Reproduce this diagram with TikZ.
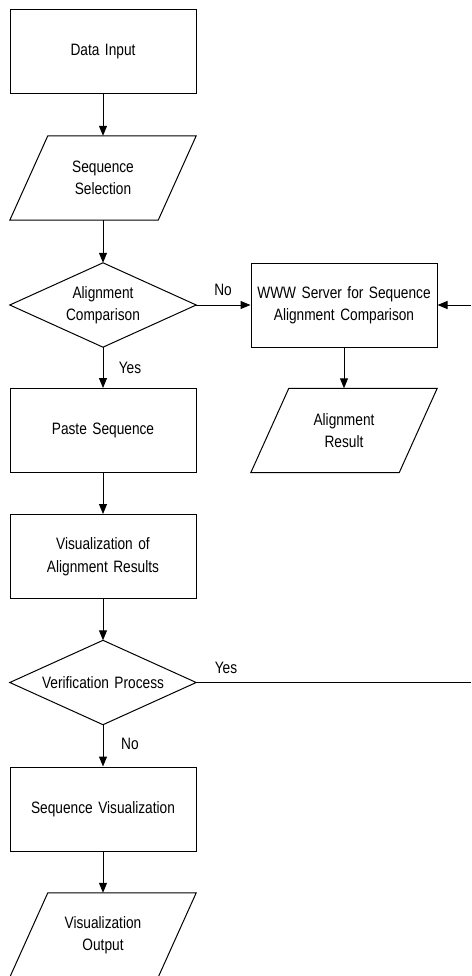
\documentclass[tikz,border=0pt]{standalone}
\usepackage{fontspec}
\setmainfont[FakeStretch=0.83,WordSpace=0.65]{Liberation Sans}
\usetikzlibrary{arrows.meta}
\begin{document}
\begin{tikzpicture}[x=1pt,y=-1pt,
  every node/.style={font=\fontsize{16.5}{22.5}\selectfont},
  blk/.style={minimum width=186pt,minimum height=84pt,inner sep=0pt,align=center,text width=180pt},
  boxd/.style={blk,draw,line width=1pt},
  ln/.style={line width=1pt},
  arr/.style={line width=1pt,-{Triangle[length=10pt,width=8pt]}},
  lbl/.style={inner sep=0pt}]
\useasboundingbox (0,0) rectangle (471,976);
\begin{scope}
\clip (0,0) rectangle (471,976);
% nodes
\node[boxd] (di) at (103,52) {Data Input};
\node[blk] (ss) at (103,178) {Sequence\\Selection};
\node[blk] (ac) at (103,305) {Alignment\\Comparison};
\node[boxd] (www) at (344,305) {WWW Server for Sequence\\Alignment Comparison};
\node[blk] (ar) at (344,430.5) {Alignment\\Result};
\node[boxd] (ps) at (103,430.5) {Paste Sequence};
\node[boxd] (va) at (103,556.5) {Visualization of\\Alignment Results};
\node[blk] (vp) at (103,682.5) {Verification Process};
\node[boxd] (sv) at (103,809) {Sequence Visualization};
\node[blk] (vo) at (103,935) {Visualization\\Output};
% parallelograms
\foreach \n in {ss,ar,vo}{
  \draw[ln] ([xshift=38pt]\n.north west) -- (\n.north east)
    -- ([xshift=-38pt]\n.south east) -- (\n.south west) -- cycle;
}
% diamonds
\foreach \n in {ac,vp}{
  \draw[ln] (\n.north) -- (\n.east) -- (\n.south) -- (\n.west) -- cycle;
}
\coordinate (rin) at (471,305);
\coordinate (rout) at (471,682.5);
% connectors
\draw[arr] (di) -- (ss);
\draw[arr] (ss) -- (ac);
\draw[arr] (ac.east) -- (www.west);
\draw[arr] (rin) -- (www.east);
\draw[arr] (www) -- (ar);
\draw[arr] (ac.south) -- (ps.north);
\draw[arr] (ps) -- (va);
\draw[arr] (va.south) -- (vp.north);
\draw[ln] (vp.east) -- (rout);
\draw[arr] (vp.south) -- (sv.north);
\draw[arr] (sv) -- (vo.north);
% labels
\node[lbl] (lno1) at (223,290) {No};
\node[lbl] (lyes1) at (130,368) {Yes};
\node[lbl] (lyes2) at (226,668) {Yes};
\node[lbl] (lno2) at (130,744) {No};
\end{scope}
\end{tikzpicture}
\end{document}
